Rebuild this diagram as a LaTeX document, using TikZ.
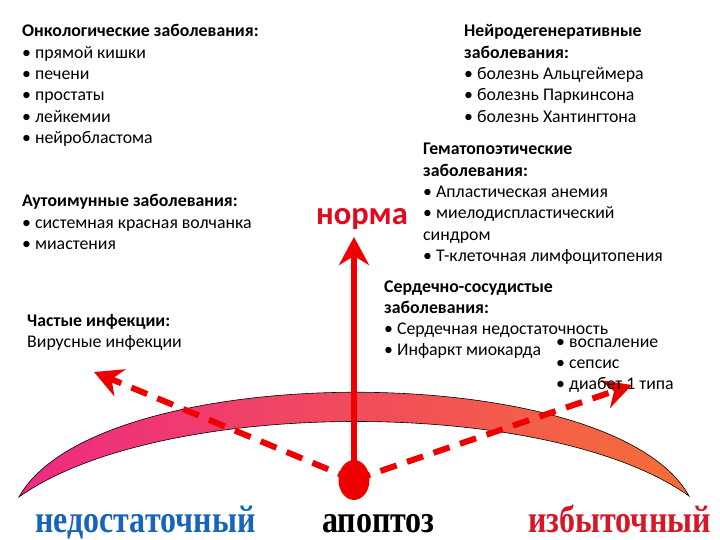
\documentclass[tikz,border=0pt]{standalone}
\usepackage{fontspec}
\usepackage{graphicx}
\setmainfont{Carlito}
\newfontfamily\timesf{Liberation Serif}
\usetikzlibrary{arrows.meta,shapes.geometric}
\definecolor{arrred}{RGB}{238,0,0}
\definecolor{normred}{RGB}{226,8,30}
\definecolor{excred}{RGB}{215,22,38}
\definecolor{lowblue}{RGB}{22,100,188}
\definecolor{crl}{RGB}{238,42,130}
\definecolor{crr}{RGB}{245,110,55}
\newcommand\mylines[1]{\vtop{\halign{##\hfil\cr #1\crcr}}}
\begin{document}
\begin{tikzpicture}[x=1pt,y=-1pt,
  txt/.style={anchor=base west, inner sep=0pt, font=\fontsize{17.8}{21.3}\selectfont},
  bigword/.style={anchor=base west, inner sep=0pt, font=\timesf\bfseries\fontsize{32}{32}\selectfont},
  dasharrow/.style={arrred, line width=6pt, dash pattern=on 17pt off 11pt,
    -{Stealth[length=28pt,width=29pt,inset=9pt]}},
  solidarrow/.style={arrred, line width=6pt, -{Stealth[length=28pt,width=30pt,inset=9pt]}}]
\path[use as bounding box] (0,0) rectangle (720,540);

% crescent
\draw[black, line width=0.6pt, left color=crl, right color=crr]
  (19,497) .. controls (96,358) and (612,357) .. (689,496)
  .. controls (549,396) and (159,397) .. (19,497) -- cycle;

% blob and arrows
\node[ellipse, fill=arrred, minimum width=31pt, minimum height=40pt, inner sep=0pt] (blob) at (354,480) {};
\coordinate (normtip) at (354,237);
\coordinate (lefttip) at (94,372);
\coordinate (righttip) at (632,385);
\draw[dasharrow] (blob.center) -- (lefttip);
\draw[dasharrow] (blob.center) -- (righttip);
\draw[solidarrow] (blob.center) -- (normtip);

% text blocks
\node[txt] (onco) at (22,37) {\mylines{\textbf{Онкологические заболевания:}\cr
  • прямой кишки\cr • печени\cr • простаты\cr • лейкемии\cr • нейробластома}};
\node[txt] (neuro) at (464,37) {\mylines{\textbf{Нейродегенеративные}\cr
  \textbf{заболевания:}\cr • болезнь Альцгеймера\cr • болезнь Паркинсона\cr • болезнь Хантингтона}};
\node[txt] (hemat) at (423,155) {\mylines{\textbf{Гематопоэтические}\cr
  \textbf{заболевания:}\cr • Апластическая анемия\cr • миелодиспластический\cr синдром\cr • Т-клеточная лимфоцитопения}};
\node[txt] (auto) at (22,207) {\mylines{\textbf{Аутоимунные заболевания:}\cr
  • системная красная волчанка\cr • миастения}};
\node[txt] (infect) at (27,326) {\mylines{\textbf{Частые инфекции:}\cr Вирусные инфекции}};
\node[txt] (cardio) at (384,292) {\mylines{\textbf{Сердечно-сосудистые}\cr
  \textbf{заболевания:}\cr • Сердечная недостаточность\cr • Инфаркт миокарда}};
\node[txt] (excess) at (556,347) {\mylines{• воспаление\cr • сепсис\cr • диабет 1 типа}};

\node[anchor=base, inner sep=0pt, text=normred, font=\bfseries\fontsize{32.5}{32.5}\selectfont] (norma) at (362,225) {норма};

\node[bigword, text=lowblue] (low) at (35,532) {\scalebox{1}[1.2]{недостаточный}};
\node[bigword, text=black] (apo) at (322,532) {\scalebox{1}[1.2]{апоптоз}};
\node[bigword, text=excred] (high) at (528,532) {\scalebox{1}[1.2]{избыточный}};
\end{tikzpicture}
\end{document}
